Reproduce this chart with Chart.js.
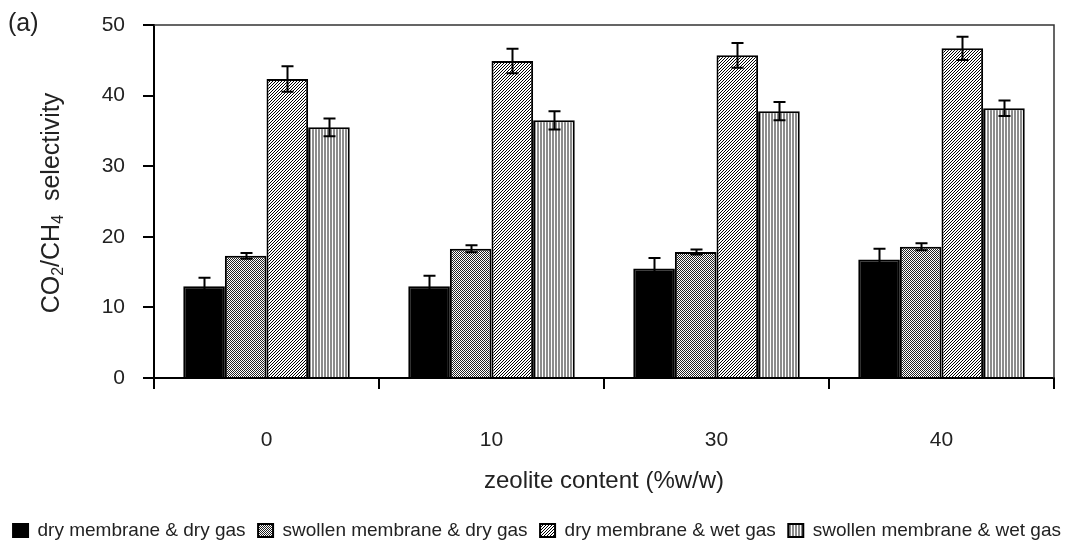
<!DOCTYPE html>
<html>
<head>
<meta charset="utf-8">
<script src="https://cdn.jsdelivr.net/npm/chart.js@4.4.1/dist/chart.umd.min.js"></script>
<style>
  html, body { margin: 0; padding: 0; background: #fff; }
  #wrap { width: 1074px; height: 546px; }
</style>
</head>
<body>
<div id="wrap"><canvas id="chart" width="1074" height="546"></canvas></div>
<script>
const zeoliteContent = ['0', '10', '30', '40'];
const seriesNames = [
    'dry membrane & dry gas',
    'swollen membrane & dry gas',
    'dry membrane & wet gas',
    'swollen membrane & wet gas'
];
const dryMemDryGas = [13.0, 13.0, 15.5, 16.8];
const swollenMemDryGas = [17.3, 18.3, 17.85, 18.6];
const dryMemWetGas = [42.35, 44.9, 45.7, 46.7];
const swollenMemWetGas = [35.5, 36.5, 37.8, 38.2];
const dryMemDryGasErr = [1.2, 1.5, 1.5, 1.5];
const swollenMemDryGasErr = [0.4, 0.5, 0.35, 0.5];
const dryMemWetGasErr = [1.8, 1.75, 1.75, 1.65];
const swollenMemWetGasErr = [1.25, 1.3, 1.3, 1.1];
const yTicks = [0, 10, 20, 30, 40, 50];

const FONT = '"Liberation Sans", Arial, sans-serif';
const TEXT = '#222';
const PLOT_BOTTOM = 378;
const PAD_BOTTOM = -4;

// small tiles used as bar fills
function makeTile(w, h, draw) {
    const c = document.createElement('canvas');
    c.width = w; c.height = h;
    const g = c.getContext('2d');
    g.fillStyle = '#fff';
    g.fillRect(0, 0, w, h);
    draw(g);
    return document.getElementById('chart').getContext('2d').createPattern(c, 'repeat');
}

const solidBlack = '#000';
const checkFill = makeTile(2, 2, g => {
    g.fillStyle = '#222';
    g.fillRect(0, 0, 1, 1);
    g.fillRect(1, 1, 1, 1);
});
const diagFill = makeTile(3, 3, g => {
    g.fillStyle = '#000';
    for (let i = 0; i < 3; i++) g.fillRect(2 - i, i, 1, 1);
});
const stripeFill = makeTile(3, 1, g => {
    g.fillStyle = '#8c8c8c';
    g.fillRect(0, 0, 2, 1);
});

function makeDataSet(label, data, err, fill) {
    return {
        label: label,
        data: data,
        errors: err,
        backgroundColor: fill,
        borderColor: '#000',
        borderWidth: 2,
        borderSkipped: 'bottom',
        categoryPercentage: 0.74,
        barPercentage: 1.0
    };
}

const errorBars = {
    id: 'errorBars',
    afterDatasetsDraw(chart) {
        const ctx = chart.ctx;
        const y = chart.scales.y;
        ctx.save();
        ctx.strokeStyle = '#000';
        ctx.lineWidth = 2;
        chart.data.datasets.forEach((ds, i) => {
            const meta = chart.getDatasetMeta(i);
            meta.data.forEach((bar, j) => {
                const v = ds.data[j], e = ds.errors[j];
                const top = y.getPixelForValue(v + e);
                const bot = y.getPixelForValue(v - e);
                const x = Math.round(bar.x) + 0.5;
                ctx.beginPath();
                ctx.moveTo(x, top); ctx.lineTo(x, bot);
                ctx.moveTo(x - 6, top); ctx.lineTo(x + 6, top);
                ctx.moveTo(x - 6, bot); ctx.lineTo(x + 6, bot);
                ctx.stroke();
            });
        });
        ctx.restore();
    }
};

// top/right frame, panel tag and the y title with subscripts
const decorations = {
    id: 'decorations',
    afterDraw(chart) {
        const ctx = chart.ctx;
        const a = chart.chartArea;
        ctx.save();
        ctx.strokeStyle = '#333';
        ctx.lineWidth = 1.5;
        ctx.beginPath();
        ctx.moveTo(a.left, a.top);
        ctx.lineTo(a.right, a.top);
        ctx.lineTo(a.right, a.bottom);
        ctx.stroke();

        ctx.fillStyle = TEXT;
        ctx.font = '25px ' + FONT;
        ctx.textBaseline = 'middle';
        ctx.textAlign = 'left';
        ctx.fillText('(a)', 8, 24);

        const parts = [
            ['CO', false], ['2', true], ['/CH', false], ['4', true], ['  selectivity', false]
        ];
        const big = '25px ' + FONT, small = '16px ' + FONT;
        let total = 0;
        parts.forEach(p => { ctx.font = p[1] ? small : big; total += ctx.measureText(p[0]).width; });
        ctx.translate(52, 203);
        ctx.rotate(-Math.PI / 2);
        let x = -total / 2;
        parts.forEach(p => {
            ctx.font = p[1] ? small : big;
            ctx.fillText(p[0], x, p[1] ? 7 : 0);
            x += ctx.measureText(p[0]).width;
        });
        ctx.restore();
    }
};

new Chart(document.getElementById('chart'), {
    type: 'bar',
    data: {
        labels: zeoliteContent,
        datasets: [
            makeDataSet(seriesNames[0], dryMemDryGas, dryMemDryGasErr, solidBlack),
            makeDataSet(seriesNames[1], swollenMemDryGas, swollenMemDryGasErr, checkFill),
            makeDataSet(seriesNames[2], dryMemWetGas, dryMemWetGasErr, diagFill),
            makeDataSet(seriesNames[3], swollenMemWetGas, swollenMemWetGasErr, stripeFill)
        ]
    },
    options: {
        responsive: false,
        animation: false,
        devicePixelRatio: 1,
        layout: { padding: { left: 0, right: 0, top: 25, bottom: PAD_BOTTOM } },
        plugins: {
            legend: {
                position: 'bottom',
                labels: {
                    boxWidth: 15,
                    boxHeight: 13,
                    padding: 12.5,
                    color: TEXT,
                    font: { family: FONT, size: 19 }
                }
            },
            tooltip: { enabled: false }
        },
        scales: {
            x: {
                grid: { drawOnChartArea: false, drawTicks: true, tickLength: 11, color: '#000', lineWidth: 2 },
                border: { display: true, color: '#000', width: 2 },
                ticks: { color: TEXT, padding: 39, font: { family: FONT, size: 21 } },
                title: {
                    display: true,
                    text: 'zeolite content (%w/w)',
                    color: TEXT,
                    font: { family: FONT, size: 24 },
                    padding: { top: 0, bottom: 13 }
                },
                afterFit(scale) {
                    const lg = scale.chart.legend;
                    const legendH = lg && lg.height ? lg.height : 41.5;
                    scale.height = scale.chart.height - PLOT_BOTTOM - legendH - PAD_BOTTOM;
                }
            },
            y: {
                min: 0,
                max: 50,
                afterBuildTicks(scale) { scale.ticks = yTicks.map(v => ({ value: v })); },
                grid: { drawOnChartArea: false, drawTicks: true, tickLength: 11, color: '#000', lineWidth: 2 },
                border: { display: true, color: '#000', width: 2 },
                ticks: { color: TEXT, padding: 18, font: { family: FONT, size: 21 } },
                afterFit(scale) {
                    scale.width = 154;
                    // the top padding is set by the layout, not by the tick labels
                    scale.paddingTop = 0;
                    scale.paddingBottom = 0;
                }
            },
            // empty strip on the right so the plot ends short of the edge
            yRight: {
                axis: 'y',
                position: 'right',
                grid: { display: false },
                border: { display: false },
                ticks: { display: false },
                afterFit(scale) { scale.width = 20; }
            }
        }
    },
    plugins: [errorBars, decorations]
});
</script>
</body>
</html>
